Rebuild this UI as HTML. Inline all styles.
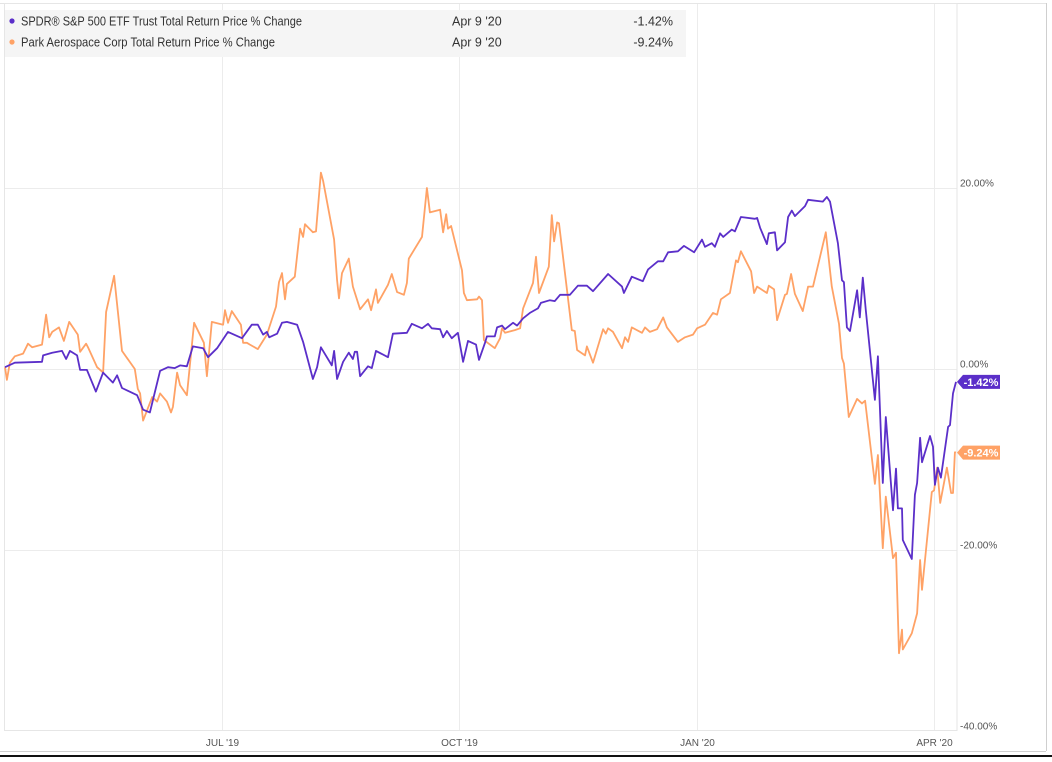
<!DOCTYPE html>
<html><head><meta charset="utf-8"><style>
html,body{margin:0;padding:0;background:#fff;}
body{width:1052px;height:757px;overflow:hidden;position:relative;font-family:"Liberation Sans Narrow","Liberation Sans",sans-serif;}
svg text{font-family:"Liberation Sans Narrow","Liberation Sans",sans-serif;}
</style></head><body>
<svg id="chart" width="1052" height="757" viewBox="0 0 1052 757" xmlns="http://www.w3.org/2000/svg">
<line x1="0" y1="3.5" x2="1046" y2="3.5" stroke="#e4e4e4"/>
<line x1="1046.5" y1="3" x2="1046.5" y2="751" stroke="#cfcfcf"/>
<line x1="0" y1="751.5" x2="1046" y2="751.5" stroke="#cfcfcf"/>
<rect x="0" y="755" width="1052" height="2" fill="#111"/>
<g id="grid"></g>
<rect x="4.5" y="3.5" width="952.5" height="727" fill="none" stroke="#e6e6e6"/>
<g id="series"></g>
<g id="axis"></g>
<g>
<rect x="5" y="10" width="681" height="47" fill="#f5f5f5"/>
<circle cx="12" cy="21" r="2.6" fill="#5b2fc9"/>
<text x="21" y="25.5" font-size="12.5" fill="#333" textLength="281" lengthAdjust="spacingAndGlyphs">SPDR® S&amp;P 500 ETF Trust Total Return Price % Change</text>
<text x="452" y="25.5" font-size="12.5" fill="#333">Apr 9 '20</text>
<text x="673" y="25.5" font-size="12.5" fill="#333" text-anchor="end">-1.42%</text>
<circle cx="12" cy="42" r="2.6" fill="#ffa266"/>
<text x="21" y="46.5" font-size="12.5" fill="#333" textLength="254" lengthAdjust="spacingAndGlyphs">Park Aerospace Corp Total Return Price % Change</text>
<text x="452" y="46.5" font-size="12.5" fill="#333">Apr 9 '20</text>
<text x="673" y="46.5" font-size="12.5" fill="#333" text-anchor="end">-9.24%</text>
</g>
</svg>
<script>
const yTicks=[20,0,-20,-40];
const yTickLabels=["20.00%","0.00%","-20.00%","-40.00%"];
const xTickDays=[57.5,120.3,183.4,246.2];
const xTickLabels=["JUL '19","OCT '19","JAN '20","APR '20"];
const spyDays=[0,2.6,9.8,10.1,12.5,15.1,16.2,17.2,19.1,19.9,21.7,24.1,26.0,28.6,29.7,31.0,35.0,36.6,38.4,41.1,43.2,45.0,46.4,48.2,49.8,52.5,53.8,56.2,59.1,62.8,65.4,67.0,68.4,69.4,70.0,72.1,73.4,74.7,77.4,79.0,81.6,82.7,83.7,86.6,87.2,88.0,89.6,91.1,92.2,92.7,93.3,94.1,96.2,97.2,98.3,101.5,102.8,106.5,107.8,110.5,112.1,113.1,115.3,116.1,117.1,118.4,120.0,121.4,122.7,124.8,125.6,127.2,127.7,129.8,130.4,131.7,132.5,134.6,135.7,137.3,139.1,141.2,142.0,144.4,145.7,147.1,149.7,151.8,154.2,155.8,159.8,163.5,164.0,166.1,169.0,170.4,173.0,174.4,175.7,178.3,179.9,182.6,184.7,185.5,187.3,188.1,189.5,190.3,192.6,193.4,195.0,198.7,199.3,200.1,201.9,202.4,204.0,204.6,206.7,207.5,208.5,209.3,212.0,212.8,216.7,217.8,218.6,220.7,221.8,222.3,223.1,223.9,225.8,226.5,227.3,228.1,230.5,231.3,232.6,233.4,235.3,236.1,236.6,237.7,237.9,240.3,241.1,241.7,242.5,243.0,245.1,245.9,246.4,247.2,248.0,249.9,250.4,251.2,252];
const spyValues=[0.2,0.7,0.8,1.5,1.8,2.0,1.1,2.0,1.5,-0.1,-0.1,-2.5,-0.4,-1.5,-0.7,-2.1,-2.9,-4.5,-4.8,-0.2,0.2,0.1,0.4,0.3,2.5,2.3,1.3,2.3,4.1,3.4,4.9,4.9,3.8,4.1,3.5,3.9,5.1,5.2,4.9,3.0,-1.1,0.2,2.4,0.4,2.0,-1.1,0.8,1.8,1.1,1.9,1.9,-0.8,0.3,0.1,2.0,1.3,3.9,4.0,5.0,4.5,5.0,4.5,4.4,3.5,4.2,3.4,4.0,0.8,3.1,2.7,1.0,2.9,3.6,3.6,4.6,4.8,4.4,5.1,4.8,5.6,6.2,6.7,7.3,7.6,7.5,8.2,8.2,9.2,9.2,8.6,10.5,9.1,8.4,10.2,9.7,11.0,11.9,11.9,12.9,13.0,13.6,12.9,14.3,13.5,13.9,13.5,15.0,14.6,15.4,15.2,16.8,16.6,16.7,15.6,13.8,15.0,15.1,13.1,14.0,16.8,17.5,16.9,18.0,18.7,18.5,19.0,18.5,13.9,9.8,9.6,4.6,4.2,8.7,5.7,10.1,6.5,-3.4,1.4,-12.6,-5.3,-15.6,-11.0,-15.4,-15.4,-18.9,-21.0,-13.9,-12.6,-7.6,-10.3,-7.4,-8.6,-12.8,-10.9,-12.0,-6.4,-6.2,-2.7,-1.42];
const pkeDays=[0,0.5,1.3,2.6,4.8,6.1,7.2,9.8,10.9,11.7,12.5,14.3,15.6,17.0,19.3,19.9,21.5,22.0,24.4,26.0,26.8,28.9,31.0,34.4,35.2,35.8,36.6,39.0,40.3,41.1,42.9,44.0,44.5,45.6,46.4,48.2,50.1,52.7,53.5,54.8,57.8,58.3,59.1,60.1,62.5,63.1,64.1,64.9,67.0,69.4,71.8,72.6,73.4,74.2,74.7,76.8,78.2,79.0,79.5,81.6,82.4,83.7,84.3,87.2,88.0,88.5,89.3,91.1,92.2,94.1,96.2,97.0,98.3,98.8,101.5,102.5,103.9,105.7,106.5,107.0,110.5,111.8,112.6,115.3,116.1,116.9,117.4,118.2,121.1,121.6,122.4,125.1,125.6,126.4,126.9,129.8,131.2,131.7,132.5,135.1,136.5,137.3,139.9,140.7,141.5,144.1,144.9,145.5,146.3,146.8,150.2,151.0,151.6,153.7,154.2,155.8,158.5,159.2,159.8,161.1,163.5,164.3,165.1,166.1,168.8,169.6,170.9,172.8,174.4,175.4,178.3,180.2,182.3,183.4,185.5,187.6,188.7,189.7,192.1,193.7,194.2,195.0,197.7,198.5,199.3,201.9,202.4,203.8,204.6,206.7,207.2,208.3,209.3,211.4,212.8,214.1,217.5,219.1,221.0,221.8,222.3,223.6,225.8,227.1,227.9,230.5,231.3,232.6,233.4,235.3,236.1,236.9,237.7,237.9,240.3,241.7,242.5,243.0,245.6,246.2,247.0,247.8,249.6,250.7,251.2,251.7,252];
const pkeValues=[0.2,-1.2,0.7,1.4,1.7,2.8,2.4,2.7,6.0,3.5,4.1,4.6,3.1,5.2,3.8,1.9,2.8,2.4,0.2,-0.4,6.3,10.3,2.0,0,-2.2,-2.7,-5.7,-3.1,-3.6,-2.7,-3.6,-4.8,-4.2,-0.4,-1.8,-2.9,5.1,2.9,-0.8,5.2,4.9,6.5,5.1,6.4,4.9,2.9,2.9,2.7,2.2,3.8,6.9,9.6,10.6,7.7,9.4,10.2,15.5,14.6,16.0,15.1,15.2,21.7,20.8,14.3,9.8,7.8,10.6,12.2,9.1,6.6,7.7,6.5,8.8,7.3,9.3,10.5,8.5,8.2,9.5,12.2,14.6,20.0,17.3,17.6,15.1,17.1,15.5,15.8,10.9,8.4,7.6,7.7,8.0,7.6,3.2,2.3,3.4,4.5,4.0,4.3,4.5,6.7,9.5,12.4,8.4,11.3,17.0,14.1,16.2,16.1,4.3,4.2,2.1,1.5,2.5,0.7,4.4,3.9,4.5,4.1,2.3,3.5,3.0,4.6,4.0,4.6,4.1,4.4,5.7,4.6,3.0,3.5,3.8,4.5,4.9,6.2,6.0,7.7,8.4,12.0,11.8,13.0,10.8,8.4,9.1,8.4,9.2,8.8,5.4,8.2,8.3,10.5,8.3,6.4,9.1,9.1,15.1,9.1,5.0,1.2,0.6,-5.3,-3.3,-3.8,-3.5,-12.7,-9.5,-19.8,-14.1,-20.9,-20.3,-31.4,-28.8,-31.0,-29.2,-27.0,-21.1,-24.4,-13.6,-13.4,-10.9,-14.8,-10.9,-13.7,-13.7,-9.2,-9.24];

const NS="http://www.w3.org/2000/svg";
const X0=5,X1=956,DMAX=252,Y0=369,PX_PER_PCT=9.05;
function xs(d){return X0+d*(X1-X0)/DMAX;}
function ys(v){return Y0-v*PX_PER_PCT;}
function mk(tag,attrs,parent){const e=document.createElementNS(NS,tag);for(const k in attrs)e.setAttribute(k,attrs[k]);parent.appendChild(e);return e;}
const grid=document.getElementById('grid'),axis=document.getElementById('axis'),series=document.getElementById('series');
yTicks.forEach((v,i)=>{
  const y=Math.round(ys(v))+0.5;
  if(v>-40){const l=mk('line',{x1:5,x2:957,y1:y,y2:y,stroke:'#ececec'},grid);
  
  }
  const t=mk('text',{x:960,y:y-2,'font-size':10,fill:'#555'},axis);
  t.textContent=yTickLabels[i];
  
  
});
xTickDays.forEach((d,i)=>{
  const x=Math.round(xs(d))+0.5;
  const l=mk('line',{x1:x,x2:x,y1:4,y2:730,stroke:'#ececec'},grid);
  
  
  const t=mk('text',{x:x,y:746,'font-size':10,fill:'#555','text-anchor':'middle'},axis);
  t.textContent=xTickLabels[i];
  
  
});
function drawLine(days,vals,color,name){
  const pts=days.map((d,i)=>xs(d).toFixed(1)+','+ys(vals[i]).toFixed(1)).join(' ');
  const p=mk('polyline',{points:pts,fill:'none',stroke:color,'stroke-width':1.8,'stroke-linejoin':'round'},series);
  
  
}
drawLine(pkeDays,pkeValues,'#ffa266','pke-line');
drawLine(spyDays,spyValues,'#5b2fc9','spy-line');
function flag(v,color,name){
  const y=ys(v);
  const g=mk('g',{},axis);
  
  
  mk('path',{d:`M957 ${y} L963 ${y-7} L1000 ${y-7} L1000 ${y+7} L963 ${y+7} Z`,fill:color},g);
  const t=mk('text',{x:981,y:y+4,'font-size':11,'font-weight':'bold',fill:'#fff','text-anchor':'middle'},g);
  t.textContent=v.toFixed(2)+'%';
}
flag(spyValues[spyValues.length-1],'#5b2fc9','spy-last-value-flag');
flag(pkeValues[pkeValues.length-1],'#ffa266','pke-last-value-flag');
</script>
</body></html>
